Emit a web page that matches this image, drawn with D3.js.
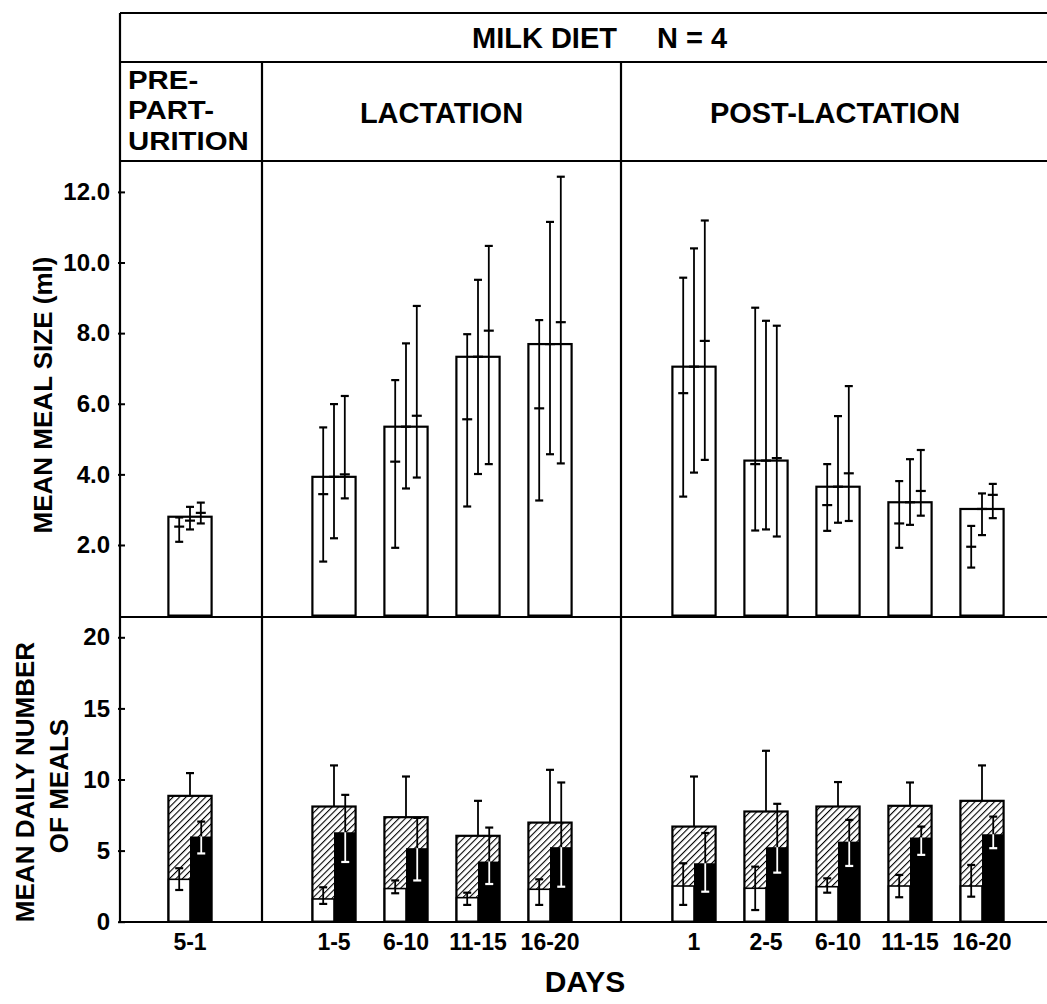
<!DOCTYPE html>
<html><head><meta charset="utf-8">
<script src="https://cdn.jsdelivr.net/npm/d3@7"></script>
<style>body{margin:0;background:#fff}text{font-family:"Liberation Sans",Arial,sans-serif;font-weight:bold;fill:#000}</style>
</head><body>
<svg id="chart" width="1047" height="1004"></svg>
<script>
// ---------- DATA ----------
const categories = ["5-1","1-5","6-10","11-15","16-20","1","2-5","6-10","11-15","16-20"];
const slotIds    = ["s0","gapA","s1","s2","s3","s4","gapB","s5","s6","s7","s8","s9"];
const catSlots   = ["s0","s1","s2","s3","s4","s5","s6","s7","s8","s9"];
const phases = ["PRE-PARTURITION","LACTATION","POST-LACTATION"];
const sizeTicks = [2,4,6,8,10,12];
const countTicks = [0,5,10,15,20];

// Top panel: mean meal size (ml)
const mealSize = [2.80, 3.93, 5.35, 7.33, 7.69, 7.05, 4.39, 3.65, 3.21, 3.02];
const sizeA_mean = [2.52, 3.44, 4.36, 5.56, 5.87, 6.30, 4.29, 3.13, 2.61, 1.95];
const sizeA_lo   = [2.09, 1.53, 1.92, 3.09, 3.26, 3.37, 2.41, 2.40, 1.92, 1.36];
const sizeA_hi   = [2.78, 5.33, 6.67, 7.97, 8.37, 9.57, 8.72, 4.29, 3.81, 2.54];
const sizeB_mean = [2.69, 3.93, 5.35, 7.33, 7.69, 7.05, 4.39, 3.65, 3.21, 3.02];
const sizeB_lo   = [2.44, 2.19, 3.60, 4.01, 4.57, 4.05, 2.44, 2.63, 2.57, 2.28];
const sizeB_hi   = [3.08, 5.99, 7.71, 9.51, 11.15, 10.40, 8.35, 5.65, 4.43, 3.46];
const sizeC_mean = [2.91, 4.00, 5.66, 8.07, 8.31, 7.78, 4.46, 4.03, 3.53, 3.42];
const sizeC_lo   = [2.61, 3.32, 3.91, 4.29, 4.31, 4.41, 2.24, 2.68, 2.83, 2.76];
const sizeC_hi   = [3.20, 6.22, 8.77, 10.47, 12.43, 11.19, 8.21, 6.50, 4.69, 3.73];

// Bottom panel: mean daily number of meals
const mealsTotal   = [8.85, 8.10, 7.35, 6.04, 6.97, 6.69, 7.75, 8.10, 8.15, 8.50];
const mealsTotalHi = [10.45, 10.99, 10.21, 8.50, 10.68, 10.21, 12.02, 9.82, 9.79, 10.99];
const mealsWhite   = [2.98, 1.60, 2.33, 1.69, 2.28, 2.51, 2.35, 2.46, 2.51, 2.51];
const mealsWhiteLo = [2.23, 1.25, 2.00, 1.18, 1.18, 1.18, 0.82, 2.04, 1.72, 1.76];
const mealsWhiteHi = [3.76, 2.42, 2.90, 2.04, 2.98, 4.11, 3.87, 3.05, 3.29, 3.99];
const mealsBlack   = [5.99, 6.29, 5.17, 4.23, 5.24, 4.11, 5.24, 5.63, 5.92, 6.15];
const mealsBlackLo = [4.80, 4.20, 2.90, 2.65, 2.46, 2.11, 3.45, 3.92, 4.70, 5.17];
const mealsBlackHi = [7.04, 8.92, 7.30, 6.62, 9.79, 6.24, 8.29, 7.16, 6.69, 7.39];

// ---------- LAYOUT ----------
const svg = d3.select("#chart");
const L = 120, R = 1047, T = 13, H1 = 62, H2 = 161, MID = 617, B = 922;
const div1 = 262, div2 = 621;

const x = d3.scaleBand().domain(slotIds).range([154, 1018]).paddingInner(0.4).paddingOuter(0.2);
const yTop = d3.scaleLinear().domain([0, 12]).range([615.6, 191.9]);
const yBot = d3.scaleLinear().domain([0, 20]).range([921.7, 637.3]);
const bw = x.bandwidth();

// hatch pattern
const defs = svg.append("defs");
const pat = defs.append("pattern").attr("id","hatch").attr("patternUnits","userSpaceOnUse")
  .attr("width",4.6).attr("height",4.6).attr("patternTransform","rotate(45)");
pat.append("rect").attr("width",4.6).attr("height",4.6).attr("fill","#fff");
pat.append("line").attr("x1",0).attr("y1",0).attr("x2",0).attr("y2",4.6).attr("stroke","#000").attr("stroke-width",2.2);

function errBar(g, cx, y1, y2, color, cap1 = true, cap2 = true) {
  g.append("line").attr("x1",cx).attr("x2",cx).attr("y1",y1).attr("y2",y2)
    .attr("stroke",color).attr("stroke-width",1.8);
  if (cap1) g.append("line").attr("x1",cx-4).attr("x2",cx+4).attr("y1",y1).attr("y2",y1).attr("stroke",color).attr("stroke-width",2.2);
  if (cap2) g.append("line").attr("x1",cx-4).attr("x2",cx+4).attr("y1",y2).attr("y2",y2).attr("stroke",color).attr("stroke-width",2.2);
}

// ---------- TOP PANEL ----------
const gTop = svg.append("g");
catSlots.forEach((s, i) => {
  const x0 = x(s);
  gTop.append("rect").attr("x",x0).attr("y",yTop(mealSize[i])).attr("width",bw)
    .attr("height",yTop(0)-yTop(mealSize[i])).attr("fill","#fff").attr("stroke","#000").attr("stroke-width",2.2);
  const sets = [[sizeA_mean,sizeA_lo,sizeA_hi,0.25],[sizeB_mean,sizeB_lo,sizeB_hi,0.5],[sizeC_mean,sizeC_lo,sizeC_hi,0.75]];
  sets.forEach(([m,lo,hi,f]) => {
    const cx = x0 + bw*f;
    errBar(gTop, cx, yTop(hi[i]), yTop(lo[i]), "#000");
    gTop.append("line").attr("x1",cx-5).attr("x2",cx+5).attr("y1",yTop(m[i])).attr("y2",yTop(m[i]))
      .attr("stroke","#000").attr("stroke-width",2.2);
  });
});

// ---------- BOTTOM PANEL ----------
const gBot = svg.append("g");
catSlots.forEach((s, i) => {
  const x0 = x(s), xm = x0 + bw/2;
  gBot.append("rect").attr("x",x0).attr("y",yBot(mealsTotal[i])).attr("width",bw)
    .attr("height",yBot(0)-yBot(mealsTotal[i])).attr("fill","url(#hatch)");
  gBot.append("rect").attr("x",x0).attr("y",yBot(mealsWhite[i])).attr("width",bw/2)
    .attr("height",yBot(0)-yBot(mealsWhite[i])).attr("fill","#fff").attr("stroke","#000").attr("stroke-width",1.6);
  gBot.append("rect").attr("x",xm).attr("y",yBot(mealsBlack[i])).attr("width",bw/2)
    .attr("height",yBot(0)-yBot(mealsBlack[i])).attr("fill","#000");
  gBot.append("rect").attr("x",x0).attr("y",yBot(mealsTotal[i])).attr("width",bw)
    .attr("height",yBot(0)-yBot(mealsTotal[i])).attr("fill","none").attr("stroke","#000").attr("stroke-width",2.2);
  errBar(gBot, xm, yBot(mealsTotalHi[i]), yBot(mealsTotal[i]), "#000", true, false);
  errBar(gBot, x0 + bw*0.25, yBot(mealsWhiteHi[i]), yBot(mealsWhiteLo[i]), "#000");
  const bx = x0 + bw*0.76;
  errBar(gBot, bx, yBot(mealsBlackHi[i]), yBot(mealsBlack[i]), "#000", true, false);
  errBar(gBot, bx, yBot(mealsBlack[i]), yBot(mealsBlackLo[i]), "#fff", false, true);
});

// ---------- AXES ----------
const axTop = svg.append("g").attr("transform",`translate(${L},0)`)
  .call(d3.axisLeft(yTop).tickValues(sizeTicks).tickFormat(d3.format(".1f")).tickSize(-5).tickPadding(10));
const axBot = svg.append("g").attr("transform",`translate(${L},0)`)
  .call(d3.axisLeft(yBot).tickValues(countTicks).tickFormat(d3.format("d")).tickSize(-5).tickPadding(10));
[axTop, axBot].forEach(a => {
  a.select(".domain").remove();
  a.selectAll(".tick line").attr("stroke","#000").attr("stroke-width",2).attr("x1",-2);
  a.selectAll(".tick text").attr("font-size",24).attr("font-family",null).attr("fill","#000");
});
const axX = svg.append("g").attr("transform",`translate(0,${B})`)
  .call(d3.axisBottom(x).tickValues(catSlots).tickFormat((d,i)=>categories[i]).tickSize(0).tickPadding(12));
axX.select(".domain").remove();
axX.selectAll(".tick text").attr("font-size",23).attr("font-family",null).attr("fill","#000");

// ---------- FRAME ----------
const frame = svg.append("g").attr("stroke","#000").attr("stroke-width",2.2).attr("fill","none");
[[L,T,R,T],[L,H1,R,H1],[L,H2,R,H2],[L,MID,R,MID],[L,B,R,B],[L,T,L,B],[div1,H1,div1,B],[div2,H1,div2,B]]
  .forEach(([a,b,c,d]) => frame.append("line").attr("x1",a).attr("y1",b).attr("x2",c).attr("y2",d));

// ---------- TEXT ----------
svg.append("text").attr("x",617).attr("y",48).attr("text-anchor","end").attr("font-size",29).text("MILK DIET");
svg.append("text").attr("x",657).attr("y",48).attr("text-anchor","start").attr("font-size",29).text("N = 4");
["PRE-","PART-","URITION"].forEach((t,i)=> {
  const tx = svg.append("text").attr("x",128).attr("y",[89,119,150][i]).attr("font-size",26).text(t);
  const w = tx.node().getComputedTextLength();
  tx.attr("textLength", w*1.13).attr("lengthAdjust","spacingAndGlyphs");
});
svg.append("text").attr("x",(div1+div2)/2).attr("y",123).attr("text-anchor","middle").attr("font-size",29).text(phases[1]);
svg.append("text").attr("x",835).attr("y",123).attr("text-anchor","middle").attr("font-size",29).text(phases[2]);

svg.append("text").attr("transform","translate(43,395) rotate(-90)").attr("dy","0.36em")
  .attr("text-anchor","middle").attr("font-size",26).text("MEAN MEAL SIZE (ml)");
svg.append("text").attr("transform","translate(25,782) rotate(-90)").attr("dy","0.36em")
  .attr("text-anchor","middle").attr("font-size",26).text("MEAN DAILY NUMBER");
svg.append("text").attr("transform","translate(59,786) rotate(-90)").attr("dy","0.36em")
  .attr("text-anchor","middle").attr("font-size",26).text("OF MEALS");
svg.append("text").attr("x",585).attr("y",992).attr("text-anchor","middle").attr("font-size",30).text("DAYS");
</script>
</body></html>
